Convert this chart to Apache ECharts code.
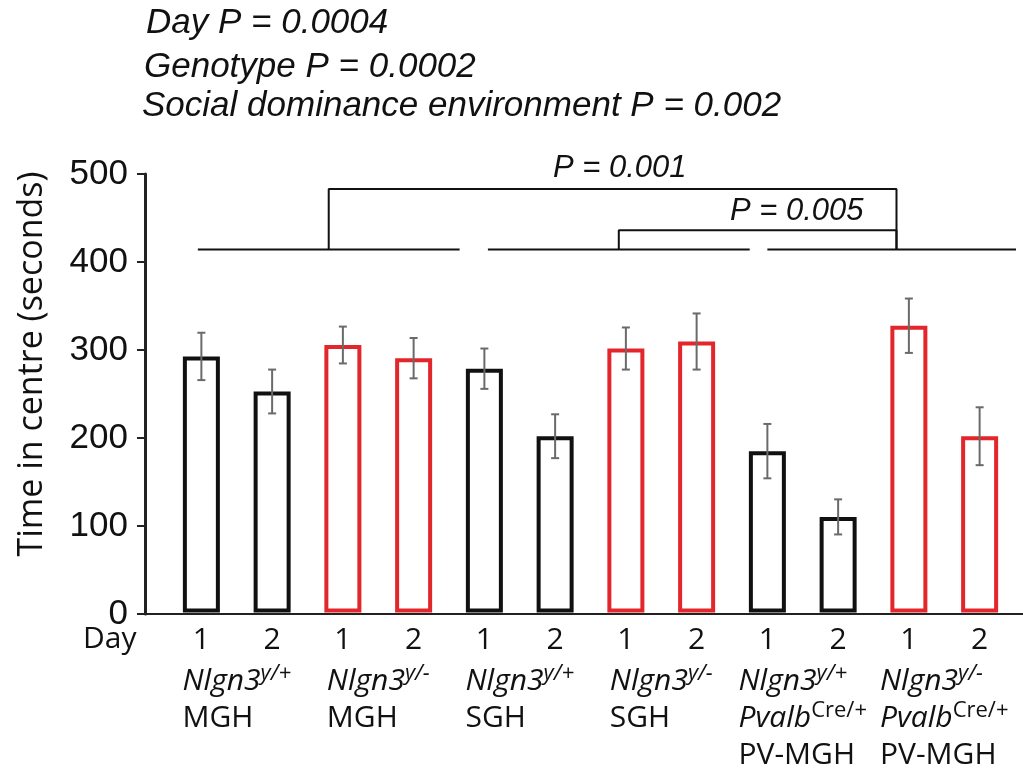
<!DOCTYPE html>
<html>
<head>
<meta charset="utf-8">
<script src="https://cdn.jsdelivr.net/npm/echarts@6/dist/echarts.min.js"></script>
<style>
  html, body { margin: 0; background: #fff; }
  #chart { width: 1023px; height: 770px; }
</style>
</head>
<body>
<div id="chart"></div>
<script>
// one bar per (group, day)
const dayLabels = ['1', '2', '1', '2', '1', '2', '1', '2', '1', '2', '1', '2'];
const genotypes = ['y/+', 'y/+', 'y/-', 'y/-', 'y/+', 'y/+', 'y/-', 'y/-', 'y/+', 'y/+', 'y/-', 'y/-'];
const timeInCentre = [292, 252, 305, 290, 278, 201, 301, 309, 184, 109, 327, 201];
const sem = [27, 25, 21, 23, 23, 25, 24, 32, 31, 20, 31, 33];

const groupLabels = [
  '{it|Nlgn3}{sup|y/+}\n{rm|MGH}',
  '{it|Nlgn3}{sup|y/-}\n{rm|MGH}',
  '{it|Nlgn3}{sup|y/+}\n{rm|SGH}',
  '{it|Nlgn3}{sup|y/-}\n{rm|SGH}',
  '{it|Nlgn3}{sup|y/+}\n{it|Pvalb}{supr|Cre/+}\n{rm|PV-MGH}',
  '{it|Nlgn3}{sup|y/-}\n{it|Pvalb}{supr|Cre/+}\n{rm|PV-MGH}'
];

const effectTexts = [
  'Day P = 0.0004',
  'Genotype P = 0.0002',
  'Social dominance environment P = 0.002'
];

// environment lines and comparison brackets, x in bar-index units
const environmentSpans = [[-0.05, 3.65], [4.05, 7.75], [8.0, 11.65]];
const environmentLevel = 414;
const comparisons = [
  { from: 0, to: 2, top: 483, p: 'P = 0.001' },
  { from: 1, to: 2, top: 436, p: 'P = 0.005' }
];

const sans = '"Open Sans", "Noto Sans", sans-serif';
const arial = '"Liberation Sans", Arial, sans-serif';
const red = '#e3262b';

const chart = echarts.init(document.getElementById('chart'));

const mid = s => (s[0] + s[1]) / 2;

const bracketSeries = environmentSpans.map(s => ({
  type: 'line', xAxisIndex: 3, yAxisIndex: 1, clip: false, symbol: 'none', silent: true,
  lineStyle: { color: '#111', width: 2 },
  data: [[s[0], environmentLevel], [s[1], environmentLevel]]
})).concat(comparisons.map(c => {
  const a = mid(environmentSpans[c.from]);
  const b = mid(environmentSpans[c.to]);
  return {
    type: 'line', xAxisIndex: 3, yAxisIndex: 1, clip: false, symbol: 'none', silent: true,
    lineStyle: { color: '#111', width: 2 },
    data: [[a, environmentLevel], [a, c.top], [b, c.top], [b, environmentLevel]]
  };
}));

const titleStyle = { fontFamily: arial, fontStyle: 'italic', fontWeight: 'normal', fontSize: 35, color: '#111' };

chart.setOption({
  backgroundColor: '#fff',
  animation: false,
  title: [
    { text: effectTexts[0], left: 146, top: 6, padding: 0, textStyle: titleStyle },
    { text: effectTexts[1], left: 144, top: 50, padding: 0, textStyle: titleStyle },
    { text: effectTexts[2], left: 142, top: 89, padding: 0, textStyle: titleStyle },
    { text: comparisons[0].p, left: 553, top: 153, padding: 0, textStyle: { ...titleStyle, fontSize: 31 } },
    { text: comparisons[1].p, left: 730, top: 196, padding: 0, textStyle: { ...titleStyle, fontSize: 31 } },
    { text: 'Day', left: 83, top: 624, padding: 0,
      textStyle: { fontFamily: sans, fontWeight: 'normal', fontSize: 30, color: '#111' } }
  ],
  grid: [
    { left: 145, right: 0, top: 174, bottom: 156 },
    { left: 166, right: 8, top: 174, bottom: 156 }
  ],
  xAxis: [
    { gridIndex: 0, type: 'value', min: 0, max: 1,
      axisLine: { show: true, lineStyle: { color: '#222', width: 2 } },
      axisTick: { show: false }, axisLabel: { show: false }, splitLine: { show: false } },
    { gridIndex: 1, type: 'category', position: 'bottom',
      data: dayLabels.map((d, i) => 'b' + i),
      axisLine: { show: false }, axisTick: { show: false },
      axisLabel: { interval: 0, margin: 13, formatter: (v, i) => dayLabels[i],
        fontFamily: sans, fontSize: 30, color: '#111' } },
    { gridIndex: 1, type: 'category', position: 'bottom',
      data: groupLabels.map((g, i) => 'g' + i),
      axisLine: { show: false }, axisTick: { show: false },
      axisLabel: {
        interval: 0, hideOverlap: false,
        margin: 50, formatter: (v, i) => groupLabels[i], color: '#111', verticalAlign: 'top',
        rich: {
          it: { fontFamily: sans, fontStyle: 'italic', fontSize: 30, lineHeight: 37, align: 'left', color: '#111' },
          sup: { fontFamily: sans, fontStyle: 'italic', fontSize: 22, lineHeight: 16, verticalAlign: 'top', align: 'left', color: '#111' },
          supr: { fontFamily: sans, fontSize: 22, lineHeight: 18, verticalAlign: 'top', align: 'left', color: '#111' },
          rm: { fontFamily: sans, fontSize: 30, lineHeight: 37, align: 'left', color: '#111' }
        }
      } },
    { gridIndex: 1, type: 'value', min: -0.5, max: 11.5, show: false }
  ],
  yAxis: [
    { gridIndex: 0, type: 'value', min: 0, max: 500, interval: 100,
      name: 'Time in centre (seconds)', nameLocation: 'middle', nameGap: 96,
      nameTextStyle: { fontFamily: sans, fontSize: 34, color: '#111', padding: [0, 0, 0, 60] },
      axisLine: { show: true, lineStyle: { color: '#222', width: 3 } },
      axisTick: { show: true, length: 8, lineStyle: { color: '#222', width: 2 } },
      axisLabel: { margin: 17, fontFamily: arial, fontSize: 35, color: '#111' },
      splitLine: { show: false } },
    { gridIndex: 1, type: 'value', min: 0, max: 500, show: false }
  ],
  series: [
    {
      type: 'bar', xAxisIndex: 1, yAxisIndex: 1, barWidth: 37, silent: true,
      data: timeInCentre.map((v, i) => ({
        value: v,
        itemStyle: { color: '#fff', borderColor: genotypes[i] === 'y/-' ? red : '#111', borderWidth: 4 }
      }))
    },
    {
      type: 'custom', xAxisIndex: 1, yAxisIndex: 1, silent: true, z: 5,
      data: timeInCentre.map((v, i) => [i, v - sem[i], v + sem[i]]),
      encode: { x: 0, y: [1, 2] },
      renderItem: (params, api) => {
        const lo = api.coord([api.value(0), api.value(1)]);
        const hi = api.coord([api.value(0), api.value(2)]);
        const x = lo[0];
        const cap = 4;
        const style = { stroke: '#6a6a6a', lineWidth: 2 };
        return {
          type: 'group',
          children: [
            { type: 'line', shape: { x1: x, y1: hi[1], x2: x, y2: lo[1] }, style },
            { type: 'line', shape: { x1: x - cap, y1: hi[1], x2: x + cap, y2: hi[1] }, style },
            { type: 'line', shape: { x1: x - cap, y1: lo[1], x2: x + cap, y2: lo[1] }, style }
          ]
        };
      }
    }
  ].concat(bracketSeries)
});
</script>
</body>
</html>
